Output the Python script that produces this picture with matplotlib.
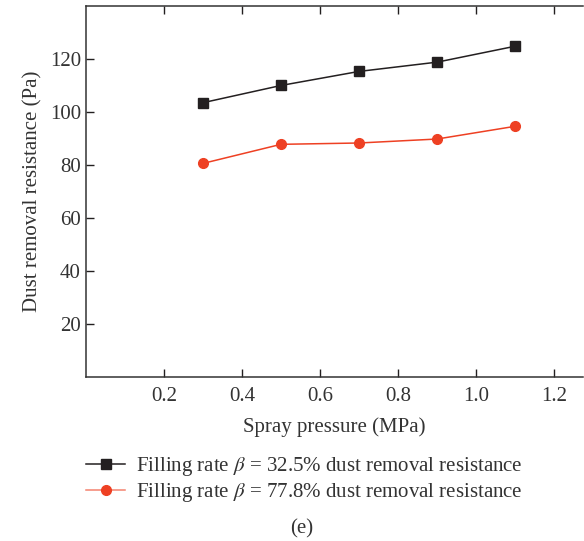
import numpy as np
from matplotlib import pyplot as plt

plt.rcParams['font.family'] = ['Liberation Serif', 'DejaVu Serif']
plt.rcParams['mathtext.fontset'] = 'stix'

pressure = [0.3, 0.5, 0.7, 0.9, 1.1]
res_325 = [103.5, 110.0, 115.3, 118.8, 124.8]
res_778 = [80.6, 87.8, 88.3, 89.8, 94.6]

x_ticks = [0.2, 0.4, 0.6, 0.8, 1.0, 1.2]
y_ticks = [20, 40, 60, 80, 100, 120]

black = '#231f20'
red = '#ee4023'
fs = 15

fig = plt.figure(figsize=(5.84, 5.41), dpi=100)
ax = fig.add_axes([0.147, 0.303, 0.852, 0.686])

ax.plot(pressure, res_325, color=black, marker='s', markersize=7, lw=1.1,
        label=r'Filling rate $\beta$ = 32.5% dust removal resistance')
ax.plot(pressure, res_778, color=red, marker='o', markersize=7, lw=1.1,
        label=r'Filling rate $\beta$ = 77.8% dust removal resistance')

ax.set_xlim(0, 1.275)
ax.set_ylim(0, 140)
ax.set_xticks(x_ticks)
ax.set_xticklabels(['0.2', '0.4', '0.6', '0.8', '1.0', '1.2'])
ax.set_yticks(y_ticks)
ax.tick_params(direction='in', length=6, width=1, colors=black,
               labelsize=fs, top=True, labelcolor='#333333')
ax.tick_params(axis='x', pad=7)
ax.spines['right'].set_visible(False)
for s in ['left', 'top', 'bottom']:
    ax.spines[s].set_color('#333333')
    ax.spines[s].set_linewidth(1.1)

ax.set_xlabel('Spray pressure (MPa)', fontsize=fs, color='#333333', labelpad=8)
ax.set_ylabel('Dust removal resistance (Pa)', fontsize=fs, color='#333333', labelpad=5)

leg = fig.legend(loc='upper left', bbox_to_anchor=(0.115, 0.193), frameon=False,
                 fontsize=fs, handlelength=1.9, handletextpad=0.5, labelspacing=0.15,
                 labelcolor='#333333')
lh = leg.get_lines()[1]
lh.set_color('#f4836f')
lh.set_markerfacecolor(red)
lh.set_markeredgecolor(red)

fig.text(0.517, 0.014, '(e)', fontsize=fs, color='#333333', ha='center')

fig.savefig('out.png', dpi=100)
